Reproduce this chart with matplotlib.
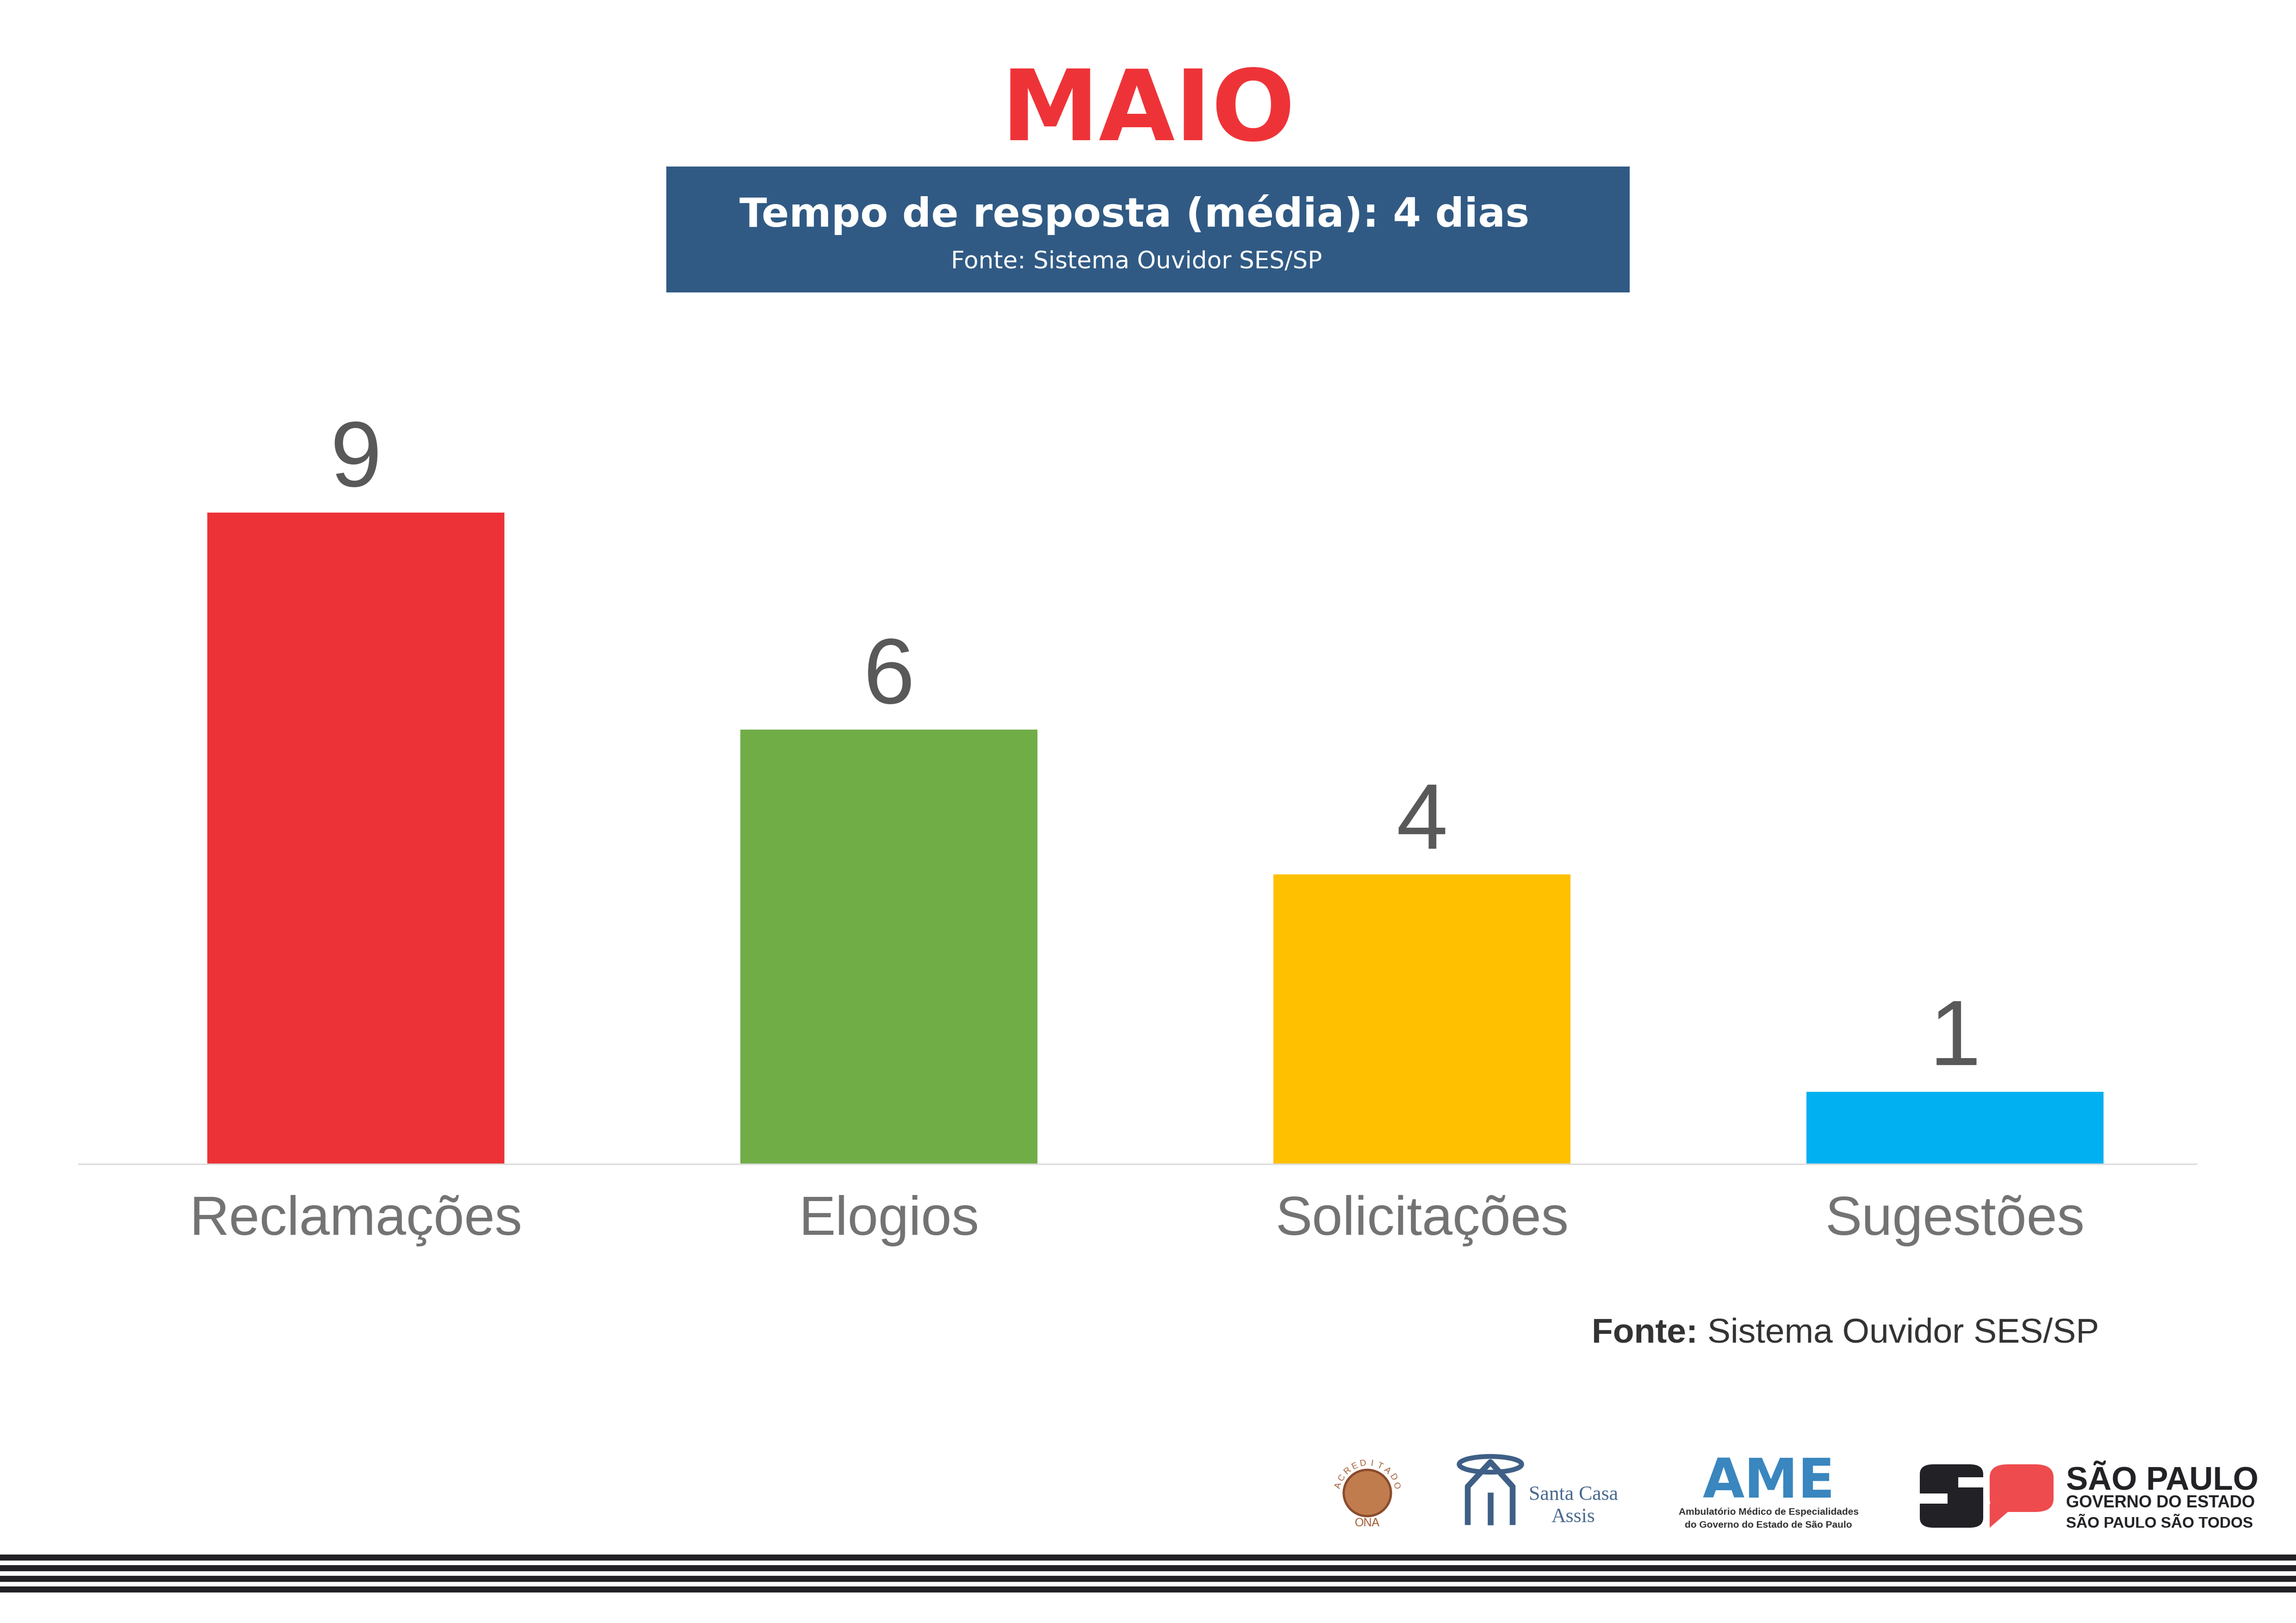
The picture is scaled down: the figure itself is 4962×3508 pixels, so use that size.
import numpy as np
import matplotlib
matplotlib.use("Agg")
import matplotlib.pyplot as plt
from matplotlib.patches import Rectangle, Ellipse, Polygon, FancyBboxPatch

# data
categories = ["Reclamações", "Elogios", "Solicitações", "Sugestões"]
values = [9, 6, 4, 1]
bar_colors = ["#EC3237", "#70AD47", "#FFC000", "#00B0F0"]
month = "MAIO"
header = "Tempo de resposta (média): 4 dias"
source = "Sistema Ouvidor SES/SP"

W, H = 4962, 3508


def fx(x):
    return x / W


def fy(y):
    return 1 - y / H


plt.rcParams['font.family'] = 'Liberation Sans'
fig = plt.figure(figsize=(W / 300, H / 300), dpi=300)
fig.patch.set_facecolor("white")

# title + header box
fig.text(0.5, fy(303), month, ha="center", va="baseline", fontsize=51,
         fontweight="bold", color="#EE3338", family="DejaVu Sans")
fig.patches.append(Rectangle((fx(1440), fy(632)), fx(3522) - fx(1440), fy(360) - fy(632),
                             transform=fig.transFigure, facecolor="#305A84", edgecolor="none"))
fig.text(fx(2452), fy(490), header, ha="center", va="baseline", fontsize=21,
         fontweight="bold", color="white", family="DejaVu Sans")
fig.text(fx(2456), fy(580), "Fonte: " + source, ha="center", va="baseline", fontsize=12.4,
         color="white", family="DejaVu Sans")

# bar chart
ax = fig.add_axes([fx(170), fy(2516), fx(4747) - fx(170), fy(1108) - fy(2516)])
x = np.arange(len(categories))
ax.bar(x, values, width=0.557, color=bar_colors)
ax.set_xlim(-0.52, 3.453)
ax.set_ylim(0, 9)
ax.set_xticks(x)
ax.set_xticklabels(categories)
ax.tick_params(axis="x", length=0, pad=16, labelsize=28.5, labelcolor="#737373")
ax.set_yticks([])
for s in ["top", "right", "left"]:
    ax.spines[s].set_visible(False)
ax.spines["bottom"].set_color("#DDDDDD")
ax.spines["bottom"].set_linewidth(0.8)
ax.patch.set_alpha(0)
for i, v in enumerate(values):
    ax.annotate(str(v), xy=(i, v), xytext=(0, 13.7), textcoords="offset points",
                ha="center", va="baseline", fontsize=48, color="#595959",
                annotation_clip=False)

# source line
t_bold = fig.text(fx(3440), fy(2902), "Fonte:", ha="left", va="baseline",
                  fontsize=18, fontweight="bold", color="#333333")
ax.annotate(" " + source, xy=(1, 0), xycoords=t_bold, ha="left", va="bottom",
            fontsize=18, color="#333333", annotation_clip=False)

# --- logos (simplified) ---
# ONA seal
fig.patches.append(Ellipse((fx(2955), fy(3227)), 102 / W, 100 / H, transform=fig.transFigure,
                           facecolor="#C17C4E", edgecolor="#8A4B2B", linewidth=1.2))
for k, ch in enumerate("ACREDITADO"):
    ang = np.deg2rad(165 - k * 150 / 9)
    cx = 2955 + 64 * np.cos(ang)
    cy = 3227 - 64 * np.sin(ang)
    fig.text(fx(cx), fy(cy), ch, ha="center", va="center", fontsize=4.5,
             color="#A0592F", rotation=np.rad2deg(ang) - 90)
fig.text(fx(2955), fy(3292), "ONA", ha="center", va="center", fontsize=6, color="#A0592F")

# Santa Casa icon
blue_sc = "#3F5F86"
fig.patches.append(Ellipse((fx(3221), fy(3165)), 135 / W, 34 / H, transform=fig.transFigure,
                           facecolor="none", edgecolor=blue_sc, linewidth=2.5))
fig.lines.append(plt.Line2D([fx(3172), fx(3172), fx(3221), fx(3269), fx(3269)],
                            [fy(3290), fy(3213), fy(3160), fy(3213), fy(3290)],
                            transform=fig.transFigure, color=blue_sc, linewidth=3))
fig.lines.append(plt.Line2D([fx(3221), fx(3221)], [fy(3232), fy(3290)],
                            transform=fig.transFigure, color=blue_sc, linewidth=3))
fig.text(fx(3400), fy(3242), "Santa Casa", ha="center", va="baseline", fontsize=10.5,
         color="#4A6A8F", family="Liberation Serif")
fig.text(fx(3400), fy(3290), "Assis", ha="center", va="baseline", fontsize=10.5,
         color="#4A6A8F", family="Liberation Serif")

# AME
fig.text(fx(3822), fy(3237), "AME", ha="center", va="baseline", fontsize=28,
         fontweight="bold", color="#3A86BE", family="DejaVu Sans")
fig.text(fx(3822), fy(3274), "Ambulatório Médico de Especialidades", ha="center",
         va="baseline", fontsize=5.0, fontweight="bold", color="#333333")
fig.text(fx(3822), fy(3302), "do Governo do Estado de São Paulo", ha="center",
         va="baseline", fontsize=5.0, fontweight="bold", color="#333333")

# SP government mark
fig.patches.append(FancyBboxPatch((fx(4149), fy(3302)), fx(4286) - fx(4149), fy(3165) - fy(3302),
                                  boxstyle="round,pad=0,rounding_size=0.006",
                                  transform=fig.transFigure, facecolor="#222226", edgecolor="none"))
fig.patches.append(Rectangle((fx(4149), fy(3250)), 60 / W, 22 / H, transform=fig.transFigure,
                             facecolor="white", edgecolor="none"))
fig.patches.append(Rectangle((fx(4232), fy(3215)), 56 / W, 22 / H, transform=fig.transFigure,
                             facecolor="white", edgecolor="none"))
fig.patches.append(FancyBboxPatch((fx(4300), fy(3268)), fx(4438) - fx(4300), fy(3165) - fy(3268),
                                  boxstyle="round,pad=0,rounding_size=0.008",
                                  transform=fig.transFigure, facecolor="#EE4B4F", edgecolor="none"))
fig.patches.append(Polygon([(fx(4300), fy(3250)), (fx(4360), fy(3250)), (fx(4300), fy(3302))],
                           closed=True, transform=fig.transFigure, facecolor="#EE4B4F",
                           edgecolor="none"))
fig.text(fx(4465), fy(3220), "SÃO PAULO", ha="left", va="baseline", fontsize=17,
         fontweight="bold", color="#222226")
fig.text(fx(4465), fy(3258), "GOVERNO DO ESTADO", ha="left", va="baseline", fontsize=8.7,
         fontweight="bold", color="#222226")
fig.text(fx(4465), fy(3302), "SÃO PAULO SÃO TODOS", ha="left", va="baseline", fontsize=8,
         fontweight="bold", color="#222226")

# bottom stripes
for y0 in [3360, 3383, 3406, 3429]:
    fig.patches.append(Rectangle((0, fy(y0 + 13)), 1, 13 / H, transform=fig.transFigure,
                                 facecolor="#222226", edgecolor="none"))

fig.savefig("out.png", dpi=300, facecolor="white")
